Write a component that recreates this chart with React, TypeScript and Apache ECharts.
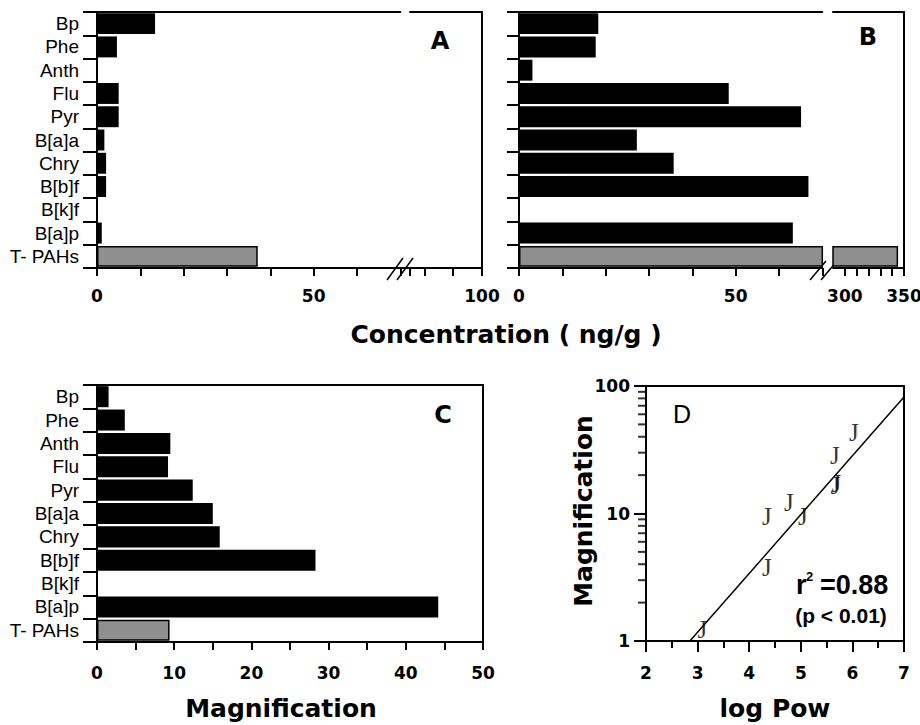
import React, { useEffect, useRef } from 'react';
import * as echarts from 'echarts';

// ---------- data ----------
const categories = ['Bp', 'Phe', 'Anth', 'Flu', 'Pyr', 'B[a]a', 'Chry', 'B[b]f', 'B[k]f', 'B[a]p', 'T- PAHs'];
const concA = [13.4, 4.6, 0, 5.0, 5.0, 1.7, 2.1, 2.1, 0, 1.1, 37.1];
const concB = [18.3, 17.7, 3.1, 48.4, 65.1, 27.2, 35.7, 66.8, 0, 63.2, 345];
const magC = [1.5, 3.6, 9.5, 9.2, 12.4, 15.0, 15.9, 28.3, 0, 44.2, 9.4];

const logPowD = [3.09, 4.34, 4.34, 5.04, 4.77, 5.67, 5.69, 5.66, 6.03];
const magD = [1.23, 3.8, 9.4, 9.4, 12.3, 16.6, 17.2, 28.6, 43.5];
const fitLogPow = [2.85, 7];
const fitMag = [1.0, 82];

const breakA = [70, 75];
const breakB = [70, 290];
const ticksARight = [75, 80, 90, 100];
const labelsALeft = [0, 50];
const labelsARight = [100];
const ticksBRight = [300, 310, 320, 330, 340, 350];
const labelsBLeft = [0, 50];
const labelsBRight = [300, 350];
const labelsC = [0, 10, 20, 30, 40, 50];
const minorMagD = [2, 3, 4, 5, 6, 7, 8, 9, 20, 30, 40, 50, 60, 70, 80, 90];

// ---------- styles ----------
const BLACK = '#000';
const lineSt = { color: BLACK, width: 2 };
const boldLabel = { fontFamily: 'DejaVu Sans', fontWeight: 'bold' as const, fontSize: 17, color: BLACK };
const catLabel = { fontFamily: 'Liberation Sans', fontSize: 19, color: BLACK };

const barItems = (vals: number[], keep?: (v: number) => boolean) =>
  vals.map((v, i) => {
    const total = categories[i] === 'T- PAHs';
    const value = keep ? (keep(v) ? v : '-') : v;
    return {
      value,
      itemStyle: total
        ? { color: '#8f8f8f', borderColor: BLACK, borderWidth: 1.5 }
        : { color: BLACK },
    };
  });

const valueX = (gridIndex: number, min: number, max: number, opts: any) => ({
  type: 'value',
  gridIndex,
  min,
  max,
  position: 'bottom',
  axisLine: { show: true, onZero: false, lineStyle: lineSt },
  splitLine: { show: false },
  ...opts,
});

const lineOnlyX = (gridIndex: number, min: number, max: number) => ({
  type: 'value',
  gridIndex,
  min,
  max,
  position: 'top',
  axisLine: { show: true, onZero: false, lineStyle: lineSt },
  axisTick: { show: false },
  axisLabel: { show: false },
  splitLine: { show: false },
});

const catY = (gridIndex: number, showLabels: boolean, tickLen: number) => ({
  type: 'category',
  gridIndex,
  data: categories,
  inverse: true,
  position: 'left',
  axisLine: { show: true, onZero: false, lineStyle: lineSt },
  axisTick: { show: true, interval: 0, length: tickLen, lineStyle: lineSt },
  axisLabel: { show: showLabels, interval: 0, margin: 18, ...catLabel },
  splitLine: { show: false },
});

const catYRightLine = (gridIndex: number) => ({
  type: 'category',
  gridIndex,
  data: categories,
  inverse: true,
  position: 'right',
  axisLine: { show: true, onZero: false, lineStyle: lineSt },
  axisTick: { show: false },
  axisLabel: { show: false },
  splitLine: { show: false },
});

const onlyIn = (list: number[]) => (v: number) => (list.indexOf(v) >= 0 ? String(v) : '');

const txt = (x: number, y: number, text: string, size: number, extra: any = {}) => ({
  type: 'text',
  x,
  y,
  silent: true,
  style: {
    text,
    fontSize: size,
    fontFamily: 'DejaVu Sans',
    fontWeight: 'bold',
    fill: BLACK,
    textAlign: 'center',
    textVerticalAlign: 'middle',
    verticalAlign: 'middle',
    ...extra,
  },
});

const seg = (x1: number, y1: number, x2: number, y2: number, w = 1.5) => ({
  type: 'line',
  silent: true,
  shape: { x1, y1, x2, y2 },
  style: { stroke: BLACK, lineWidth: w },
});

export default function App() {
  const ref = useRef<HTMLDivElement>(null);

  useEffect(() => {
    if (!ref.current) return;
    const chart = echarts.init(ref.current, undefined, { renderer: 'svg' });

    const gridBase = { containLabel: false, outerBoundsMode: 'none' };
    const option: any = {
      animation: false,
      backgroundColor: '#fff',
      grid: [
        { ...gridBase, left: 97, top: 12, width: 303.3, height: 256 }, // A left
        { ...gridBase, left: 410, top: 12, width: 72, height: 256 }, // A right
        { ...gridBase, left: 519, top: 12, width: 303.3, height: 256 }, // B left
        { ...gridBase, left: 833, top: 12, width: 71, height: 256 }, // B right
        { ...gridBase, left: 97, top: 385, width: 386, height: 257 }, // C
        { ...gridBase, left: 646, top: 386, width: 258, height: 255 }, // D
      ],
      xAxis: [
        valueX(0, 0, breakA[0], {
          interval: 10,
          axisTick: { show: true, length: 8, lineStyle: lineSt },
          axisLabel: { ...boldLabel, margin: 19, customValues: labelsALeft, formatter: onlyIn(labelsALeft) },
        }),
        lineOnlyX(0, 0, breakA[0]),
        valueX(1, breakA[1], 100, {
          axisTick: { show: true, length: 8, lineStyle: lineSt, customValues: ticksARight },
          axisLabel: { ...boldLabel, margin: 19, customValues: labelsARight, formatter: onlyIn(labelsARight) },
        }),
        lineOnlyX(1, breakA[1], 100),
        valueX(2, 0, breakB[0], {
          interval: 10,
          axisTick: { show: true, length: 8, lineStyle: lineSt },
          axisLabel: { ...boldLabel, margin: 19, customValues: labelsBLeft, formatter: onlyIn(labelsBLeft) },
        }),
        lineOnlyX(2, 0, breakB[0]),
        valueX(3, breakB[1], 350, {
          axisTick: { show: true, length: 8, lineStyle: lineSt, customValues: ticksBRight },
          axisLabel: { ...boldLabel, margin: 19, customValues: labelsBRight, formatter: onlyIn(labelsBRight) },
        }),
        lineOnlyX(3, breakB[1], 350),
        valueX(4, 0, 50, {
          interval: 5,
          axisTick: { show: true, length: 8, lineStyle: lineSt },
          axisLabel: { ...boldLabel, margin: 22, customValues: labelsC, formatter: onlyIn(labelsC) },
        }),
        lineOnlyX(4, 0, 50),
        valueX(5, 2, 7, {
          interval: 1,
          axisTick: { show: true, length: 11, lineStyle: lineSt },
          minorTick: { show: true, splitNumber: 2, length: 7, lineStyle: lineSt },
          axisLabel: { ...boldLabel, margin: 23 },
        }),
        lineOnlyX(5, 2, 7),
      ],
      yAxis: [
        catY(0, true, 14),
        catYRightLine(1),
        catY(2, false, 12),
        catYRightLine(3),
        catY(4, true, 14),
        catYRightLine(4),
        {
          type: 'log',
          gridIndex: 5,
          logBase: 10,
          min: 1,
          max: 100,
          position: 'left',
          axisLine: { show: true, onZero: false, lineStyle: lineSt },
          axisTick: { show: true, length: 12, lineStyle: lineSt },
          axisLabel: { ...boldLabel, margin: 16 },
          splitLine: { show: false },
        },
        {
          type: 'value',
          gridIndex: 5,
          min: 0,
          max: 2,
          position: 'right',
          axisLine: { show: true, onZero: false, lineStyle: lineSt },
          axisTick: { show: false },
          axisLabel: { show: false },
          splitLine: { show: false },
        },
      ],
      series: [
        { type: 'bar', xAxisIndex: 0, yAxisIndex: 0, barCategoryGap: '10%', data: barItems(concA) },
        { type: 'bar', xAxisIndex: 2, yAxisIndex: 1, barCategoryGap: '10%', data: barItems(concA, (v) => v > breakA[1]) },
        { type: 'bar', xAxisIndex: 4, yAxisIndex: 2, barCategoryGap: '10%', data: barItems(concB) },
        { type: 'bar', xAxisIndex: 6, yAxisIndex: 3, barCategoryGap: '10%', data: barItems(concB, (v) => v > breakB[1]) },
        { type: 'bar', xAxisIndex: 8, yAxisIndex: 4, barCategoryGap: '10%', data: barItems(magC) },
        {
          // minor log ticks on D's y axis, placed through the axis scale
          type: 'scatter',
          xAxisIndex: 10,
          yAxisIndex: 6,
          clip: false,
          silent: true,
          symbol: 'rect',
          symbolSize: [8, 2],
          symbolOffset: [-4, 0],
          itemStyle: { color: BLACK },
          data: minorMagD.map((m) => [2, m]),
        },
        {
          type: 'line',
          xAxisIndex: 10,
          yAxisIndex: 6,
          symbol: 'none',
          lineStyle: { color: BLACK, width: 1.5 },
          data: fitLogPow.map((x, i) => [x, fitMag[i]]),
        },
        {
          type: 'scatter',
          xAxisIndex: 10,
          yAxisIndex: 6,
          symbolSize: 1,
          itemStyle: { color: 'transparent' },
          label: {
            show: true,
            position: 'inside',
            formatter: 'J',
            fontFamily: 'Liberation Serif',
            fontSize: 25,
            color: BLACK,
          },
          data: logPowD.map((x, i) => [x, magD[i]]),
        },
      ],
      graphic: [
        // break marks
        seg(400, 268, 411, 268, 2),
        seg(387, 280, 403, 258),
        seg(397, 280, 413, 258),
        seg(810, 280, 826, 261),
        seg(821, 280, 837, 261),
        // titles
        txt(506, 334, 'Concentration ( ng/g )', 25),
        txt(281, 708, 'Magnification', 25),
        txt(775, 708, 'log Pow', 25),
        { ...txt(583, 511, 'Magnification', 25), rotation: Math.PI / 2 },
        // panel letters
        txt(440, 41, 'A', 24),
        txt(868, 37, 'B', 24),
        txt(443, 415, 'C', 24),
        txt(682, 414, 'D', 25, { fontFamily: 'Liberation Sans', fontWeight: 'normal' }),
        // statistics
        txt(796, 585, 'r', 27, { fontFamily: 'Liberation Sans', textAlign: 'left' }),
        txt(806, 576, '2', 13, { fontFamily: 'Liberation Sans', textAlign: 'left' }),
        txt(820, 585, '=0.88', 27, { fontFamily: 'Liberation Sans', textAlign: 'left' }),
        txt(841, 615, '(p < 0.01)', 21, { fontFamily: 'Liberation Sans' }),
      ],
    };

    chart.setOption(option);
    return () => chart.dispose();
  }, []);

  return (
    <div
      ref={ref}
      style={{ position: 'absolute', left: 0, top: 0, width: 920, height: 725, background: '#fff' }}
    />
  );
}
